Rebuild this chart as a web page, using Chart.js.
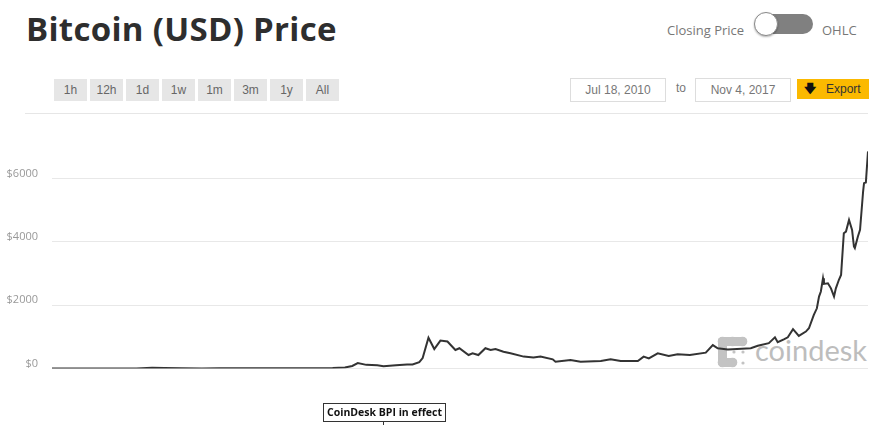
<!DOCTYPE html>
<html>
<head>
<meta charset="utf-8">
<script src="https://cdn.jsdelivr.net/npm/chart.js@4"></script>
<style>
  body { margin: 0; width: 875px; height: 425px; background: #fff; position: relative; overflow: hidden; font-family: "Liberation Sans", Arial, sans-serif; }
  .abs { position: absolute; }
  #title { left: 26px; top: 6px; font: 700 33px "Open Sans", sans-serif; letter-spacing: 0.3px; color: #2e2e2e; white-space: nowrap; }
  .lbl { font: 13px "Open Sans", sans-serif; color: #777; }
  .btn { top: 79px; width: 33px; height: 22px; background: #e6e6e6; color: #666; font-size: 12px; line-height: 22px; text-align: center; }
  .datebox { top: 78px; width: 94px; height: 22px; border: 1px solid #ddd; color: #777; font-size: 12px; line-height: 22px; text-align: center; }
  #sep { left: 25px; top: 113px; width: 843px; height: 1px; background: #e6e6e6; }
  #wm { left: 755px; top: 332px; font: 400 29px Lato, sans-serif; color: #bdbdbd; z-index: 0; }
  #chart { left: 0; top: 105px; z-index: 1; }
</style>
</head>
<body>
<div id="title" class="abs">Bitcoin (USD) Price</div>
<div class="abs lbl" style="left:667px; top:21px;">Closing Price</div>
<div class="abs" style="left:760px; top:14px; width:53px; height:20px; border-radius:10px; background:#808080;"></div>
<div class="abs" style="left:754px; top:12px; width:22px; height:22px; border-radius:50%; background:#fff; border:1px solid #888; box-shadow:0 1px 2px rgba(0,0,0,0.3);"></div>
<div class="abs lbl" style="left:822px; top:21px;">OHLC</div>

<div id="btns"></div>

<div class="abs datebox" style="left:570px;">Jul 18, 2010</div>
<div class="abs" style="left:676px; top:81px; color:#777; font-size:12px;">to</div>
<div class="abs datebox" style="left:695px;">Nov 4, 2017</div>
<div class="abs" style="left:797px; top:79px; width:72px; height:20px; background:#fbb900; font-size:12px; line-height:20px; color:#333;">
  <span style="position:absolute; left:7px; top:0; font-weight:bold; color:#111;">&#129095;</span>
  <span style="position:absolute; left:29px;">Export</span>
</div>
<div id="sep" class="abs"></div>

<svg class="abs" style="left:716px; top:335px; z-index:0;" width="34" height="34" viewBox="0 0 34 34">
  <g fill="#c3c3c3">
    <rect x="2" y="2" width="29" height="9" rx="4.5"/>
    <rect x="2" y="2" width="9" height="30" rx="4.5"/>
    <rect x="2" y="23" width="19" height="9" rx="4.5"/>
    <circle cx="6.5" cy="6.5" r="4.8"/>
    <circle cx="16.5" cy="6.5" r="4.8"/>
    <circle cx="26.5" cy="6.5" r="4.8"/>
    <circle cx="6.5" cy="27.5" r="4.8"/>
    <circle cx="16.5" cy="27.5" r="4.8"/>
    <circle cx="18" cy="17" r="1.6"/>
    <circle cx="27" cy="17" r="1.6"/>
    <circle cx="27" cy="28" r="1.6"/>
  </g>
</svg>
<div id="wm" class="abs">coindesk</div>

<canvas id="chart" class="abs" width="875" height="320"></canvas>

<script>
// range buttons and price series (CoinDesk BPI closing price, USD)
const rangeLabels = ['1h', '12h', '1d', '1w', '1m', '3m', '1y', 'All'];

const dates = [
  '2010-07-18', '2010-11-07', '2011-02-10', '2011-04-20', '2011-06-10', '2011-07-20',
  '2011-09-15', '2011-11-20', '2012-01-15', '2012-04-15', '2012-08-15', '2012-11-15',
  '2013-01-20', '2013-03-01', '2013-03-25', '2013-04-12', '2013-05-10', '2013-06-15',
  '2013-07-05', '2013-08-15', '2013-09-20', '2013-10-08', '2013-10-30', '2013-11-10',
  '2013-11-29', '2013-12-18', '2014-01-07', '2014-01-30', '2014-02-25', '2014-03-10',
  '2014-04-09', '2014-04-22', '2014-05-11', '2014-06-03', '2014-06-20', '2014-07-06',
  '2014-08-01', '2014-08-24', '2014-10-06', '2014-11-07', '2014-11-30', '2015-01-09',
  '2015-01-18', '2015-03-08', '2015-04-10', '2015-06-15', '2015-07-17', '2015-08-19',
  '2015-10-14', '2015-11-02', '2015-11-19', '2015-12-18', '2016-01-23', '2016-02-21',
  '2016-04-01', '2016-05-23', '2016-06-15', '2016-07-01', '2016-08-03', '2016-10-17',
  '2016-11-09', '2016-12-15', '2017-01-04', '2017-01-13', '2017-02-02', '2017-02-15',
  '2017-03-04', '2017-03-23', '2017-04-15', '2017-04-25', '2017-05-11', '2017-05-21',
  '2017-05-28', '2017-06-03', '2017-06-10', '2017-06-13', '2017-06-26', '2017-07-06',
  '2017-07-16', '2017-07-22', '2017-08-01', '2017-08-08', '2017-08-17', '2017-08-24',
  '2017-09-03', '2017-09-13', '2017-09-19', '2017-09-22', '2017-10-02', '2017-10-09',
  '2017-10-19', '2017-10-22', '2017-10-28', '2017-11-04'
];
const prices = [
  0.09, 0.3, 1, 1.5, 25, 14,
  5, 2.5, 6, 5, 11, 11,
  15, 33, 80, 170, 115, 100,
  75, 105, 125, 125, 200, 330,
  970, 615, 880, 850, 585, 640,
  425, 480, 425, 640, 585, 615,
  530, 480, 375, 350, 375, 290,
  215, 270, 215, 235, 290, 235,
  235, 375, 320, 480, 395, 450,
  430, 500, 740, 640, 600, 640,
  720, 800, 985, 830, 920, 985,
  1240, 1030, 1165, 1270, 1690, 1900,
  2270, 2430, 2850, 2670, 2690, 2530,
  2270, 2530, 2800, 2950, 4270, 4320,
  4690, 4375, 3850, 3800, 4165, 4375,
  5585, 5850, 5870, 6850
];

const yTicks = [0, 2000, 4000, 6000, 8000];
const flagDate = '2013-07-05';
const flagText = 'CoinDesk BPI in effect';

const btns = document.getElementById('btns');
rangeLabels.forEach((t, i) => {
  const b = document.createElement('div');
  b.className = 'abs btn';
  b.style.left = (54 + i * 36) + 'px';
  b.textContent = t;
  btns.appendChild(b);
});

const flagPlugin = {
  id: 'bpiFlag',
  afterDraw(chart) {
    const ctx = chart.ctx;
    const x = Math.round(chart.scales.x.getPixelForValue(Date.parse(flagDate))) + 0.5;
    const top = Math.round(chart.chartArea.bottom + 34) + 0.5;
    ctx.save();
    ctx.font = 'bold 10.5px "Open Sans", sans-serif';
    const w = Math.round(ctx.measureText(flagText).width) + 7;
    const left = Math.round(x - w / 2) + 0.5;
    ctx.fillStyle = '#fff';
    ctx.fillRect(left, top, w, 18);
    ctx.strokeStyle = '#333';
    ctx.lineWidth = 1;
    ctx.strokeRect(left, top, w, 18);
    ctx.beginPath();
    ctx.moveTo(x, top + 18);
    ctx.lineTo(x, top + 24);
    ctx.stroke();
    ctx.fillStyle = '#111';
    ctx.textBaseline = 'middle';
    ctx.textAlign = 'center';
    ctx.fillText(flagText, left + w / 2, top + 9.5);
    ctx.restore();
  }
};

new Chart(document.getElementById('chart').getContext('2d'), {
  type: 'line',
  data: {
    datasets: [{
      data: dates.map((d, i) => ({ x: Date.parse(d), y: prices[i] })),
      borderColor: '#333',
      borderWidth: 2,
      pointRadius: 0,
      tension: 0,
      fill: false
    }]
  },
  options: {
    responsive: false,
    animation: false,
    layout: { padding: { top: 10, right: 7, bottom: 56.5, left: 0 } },
    plugins: { legend: { display: false }, tooltip: { enabled: false } },
    scales: {
      x: {
        type: 'linear',
        display: false,
        min: Date.parse(dates[0]),
        max: Date.parse(dates[dates.length - 1])
      },
      y: {
        min: yTicks[0],
        max: yTicks[yTicks.length - 1],
        afterFit: s => { s.width = 52; s.paddingTop = 0; s.paddingBottom = 0; },
        afterBuildTicks: s => { s.ticks = yTicks.map(v => ({ value: v })); },
        ticks: {
          padding: 14,
          labelOffset: -5,
          color: '#999',
          font: { size: 11, family: '"Open Sans", sans-serif' },
          callback: v => v === 8000 ? '' : '$' + v
        },
        grid: {
          drawTicks: false,
          color: c => c.tick && c.tick.value === 8000 ? 'rgba(0,0,0,0)' : '#e8e8e8'
        },
        border: { display: false }
      }
    }
  },
  plugins: [flagPlugin]
});
</script>
</body>
</html>
